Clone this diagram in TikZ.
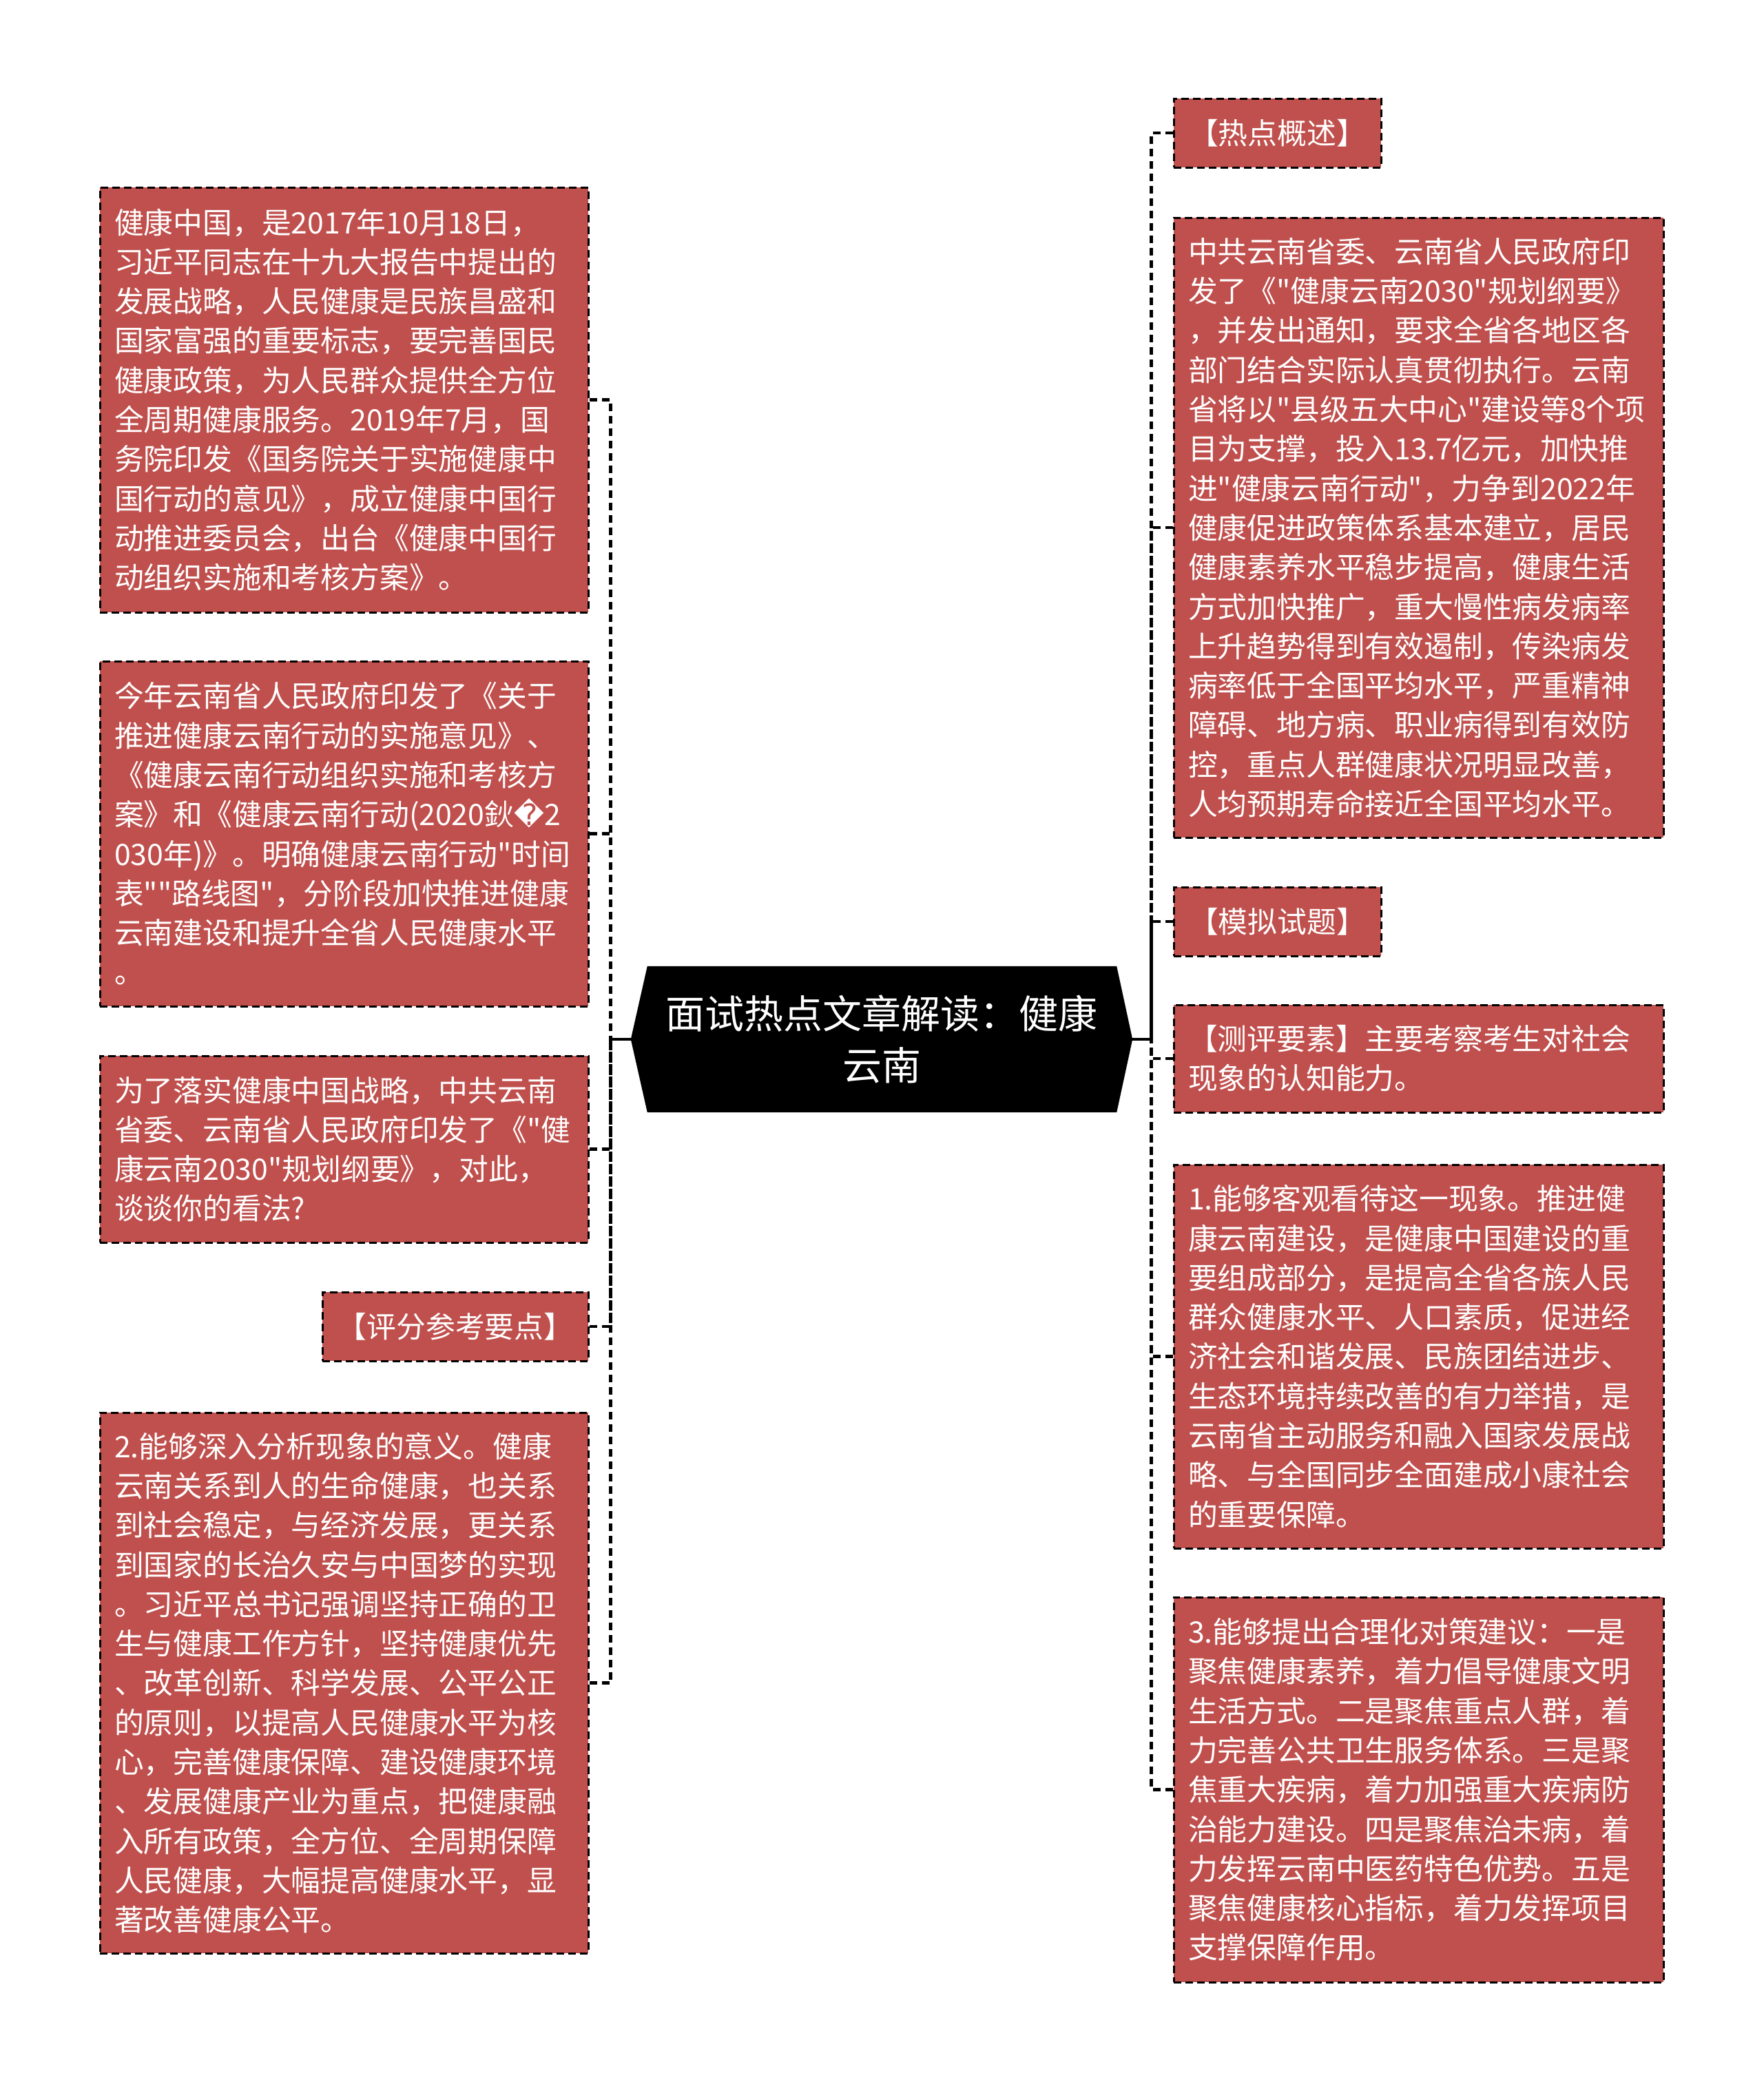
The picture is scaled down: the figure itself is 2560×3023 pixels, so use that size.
\documentclass[tikz,border=0pt]{standalone}
\usepackage{fontspec}
\newfontfamily\cn{Noto Sans CJK SC}
\newfontfamily\dvs{DejaVu Sans}
\usetikzlibrary{backgrounds}
\definecolor{boxred}{RGB}{192,80,77}
\tikzset{
  box/.style={draw=black, fill=boxred, line width=3pt, dash pattern=on 11pt off 6pt,
    text=white, inner xsep=21pt, inner ysep=0pt, align=left, anchor=center,
    font=\cn\fontsize{42.8}{57.3}\selectfont},
  wideL/.style={box, minimum width=709pt, text width=667pt},
  wideR/.style={box, minimum width=711pt, text width=669pt},
  tag/.style={box, align=center, minimum height=100pt},
  hub/.style={minimum width=728pt, minimum height=212pt, inner sep=0pt, text=white,
    align=center, font=\cn\fontsize{57}{75}\selectfont},
  link/.style={draw=black, line width=4.5pt, dash pattern=on 11pt off 7pt},
}
\begin{document}
\begin{tikzpicture}[x=1pt, y=-1pt]
\useasboundingbox (0,0) rectangle (2560,3023);

% centre
\node[hub] (c) at (1280,1509) {面试热点文章解读：健康\\云南};
\begin{scope}[on background layer]
\fill[black] ([xshift=24pt]c.north west) -- ([xshift=-23pt]c.north east) -- (c.east)
  -- ([xshift=-23pt]c.south east) -- ([xshift=24pt]c.south west) -- (c.west) -- cycle;
\end{scope}

% left column
\node[wideL, minimum height=617pt] (L1) at (499.5,580.5) {健康中国，是2017年10月18日，\\习近平同志在十九大报告中提出的\\发展战略，人民健康是民族昌盛和\\国家富强的重要标志，要完善国民\\健康政策，为人民群众提供全方位\\全周期健康服务。2019年7月，国\\务院印发《国务院关于实施健康中\\国行动的意见》，成立健康中国行\\动推进委员会，出台《健康中国行\\动组织实施和考核方案》。};

\node[wideL, minimum height=501pt] (L2) at (499.5,1210.5) {今年云南省人民政府印发了《关于\\推进健康云南行动的实施意见》、\\《健康云南行动组织实施和考核方\\案》和《健康云南行动(2020鈥{\dvs\symbol{"FFFD}}2\\030年)》。明确健康云南行动"时间\\表""路线图"，分阶段加快推进健康\\云南建设和提升全省人民健康水平\\。};

\node[wideL, minimum height=271pt] (L3) at (499.5,1668.5) {为了落实健康中国战略，中共云南\\省委、云南省人民政府印发了《"健\\康云南2030"规划纲要》，对此，\\谈谈你的看法?};

\node[tag, minimum width=386pt] (L4) at (661,1926) {【评分参考要点】};

\node[wideL, minimum height=785pt] (L5) at (499.5,2443.5) {2.能够深入分析现象的意义。健康\\云南关系到人的生命健康，也关系\\到社会稳定，与经济发展，更关系\\到国家的长治久安与中国梦的实现\\。习近平总书记强调坚持正确的卫\\生与健康工作方针，坚持健康优先\\、改革创新、科学发展、公平公正\\的原则，以提高人民健康水平为核\\心，完善健康保障、建设健康环境\\、发展健康产业为重点，把健康融\\入所有政策，全方位、全周期保障\\人民健康，大幅提高健康水平，显\\著改善健康公平。};

% right column
\node[tag, minimum width=301pt] (R1) at (1854.5,193) {【热点概述】};

\node[wideR, minimum height=900pt] (R2) at (2059.5,766) {中共云南省委、云南省人民政府印\\发了《"健康云南2030"规划纲要》\\，并发出通知，要求全省各地区各\\部门结合实际认真贯彻执行。云南\\省将以"县级五大中心"建设等8个项\\目为支撑，投入13.7亿元，加快推\\进"健康云南行动"，力争到2022年\\健康促进政策体系基本建立，居民\\健康素养水平稳步提高，健康生活\\方式加快推广，重大慢性病发病率\\上升趋势得到有效遏制，传染病发\\病率低于全国平均水平，严重精神\\障碍、地方病、职业病得到有效防\\控，重点人群健康状况明显改善，\\人均预期寿命接近全国平均水平。};

\node[tag, minimum width=301pt] (R3) at (1854.5,1338) {【模拟试题】};

\node[wideR, minimum height=156pt] (R4) at (2059.5,1537) {【测评要素】主要考察考生对社会\\现象的认知能力。};

\node[wideR, minimum height=557pt] (R5) at (2059.5,1969.5) {1.能够客观看待这一现象。推进健\\康云南建设，是健康中国建设的重\\要组成部分，是提高全省各族人民\\群众健康水平、人口素质，促进经\\济社会和谐发展、民族团结进步、\\生态环境持续改善的有力举措，是\\云南省主动服务和融入国家发展战\\略、与全国同步全面建成小康社会\\的重要保障。};

\node[wideR, minimum height=559pt] (R6) at (2059.5,2598.5) {3.能够提出合理化对策建议：一是\\聚焦健康素养，着力倡导健康文明\\生活方式。二是聚焦重点人群，着\\力完善公共卫生服务体系。三是聚\\焦重大疾病，着力加强重大疾病防\\治能力建设。四是聚焦治未病，着\\力发挥云南中医药特色优势。五是\\聚焦健康核心指标，着力发挥项目\\支撑保障作用。};

% connectors
\foreach \n in {L1,L2,L3,L4,L5}
  \draw[link] (\n.east) -- ++(31,0) |- (c.west);
\foreach \n in {R1,R2,R3,R4,R5,R6}
  \draw[link] (\n.west) -- ++(-31,0) |- (c.east);
\end{tikzpicture}
\end{document}
